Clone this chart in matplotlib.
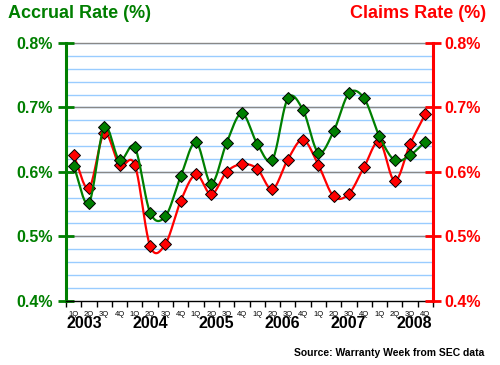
import numpy as np
import matplotlib
matplotlib.use('Agg')
import matplotlib.pyplot as plt
from matplotlib.transforms import blended_transform_factory

plt.rcParams['font.family'] = ['Liberation Sans', 'DejaVu Sans']

quarters = ['1Q', '2Q', '3Q', '4Q'] * 6
years = ['2003', '2004', '2005', '2006', '2007', '2008']
accrual = [0.609, 0.552, 0.669, 0.618, 0.638, 0.537, 0.531, 0.593, 0.646, 0.582, 0.645, 0.691,
           0.644, 0.619, 0.714, 0.696, 0.630, 0.663, 0.722, 0.714, 0.655, 0.618, 0.626, 0.647]
claims = [0.626, 0.575, 0.660, 0.611, 0.611, 0.485, 0.488, 0.555, 0.596, 0.565, 0.600, 0.612,
          0.605, 0.573, 0.619, 0.650, 0.611, 0.562, 0.566, 0.608, 0.647, 0.586, 0.643, 0.690]
y_ticks = [0.4, 0.5, 0.6, 0.7, 0.8]
y_labels = ['0.4%', '0.5%', '0.6%', '0.7%', '0.8%']

GREEN = '#007F00'
RED = '#FF0000'


def smooth(vals, n=20):
    v = np.asarray(vals, dtype=float)
    p = np.concatenate([[2 * v[0] - v[1]], v, [2 * v[-1] - v[-2]]])
    t = np.linspace(0, 1, n, endpoint=False)
    xs, ys = [], []
    for i in range(len(v) - 1):
        p0, p1, p2, p3 = p[i], p[i + 1], p[i + 2], p[i + 3]
        m1 = (p2 - p0) / 2
        m2 = (p3 - p1) / 2
        h00 = 2 * t**3 - 3 * t**2 + 1
        h10 = t**3 - 2 * t**2 + t
        h01 = -2 * t**3 + 3 * t**2
        h11 = t**3 - t**2
        ys.append(h00 * p1 + h10 * m1 + h01 * p2 + h11 * m2)
        xs.append(i + t)
    xs.append([len(v) - 1])
    ys.append([v[-1]])
    return np.concatenate(xs), np.concatenate(ys)


fig = plt.figure(figsize=(5, 3.65), dpi=100)
ax = fig.add_axes([0.132, 0.176, 0.734, 0.706])
x = np.arange(len(accrual))

ax.set_xlim(-0.5, len(accrual) - 0.5)
ax.set_ylim(0.4, 0.8)

# grid
for yv in np.arange(0.42, 0.8, 0.02):
    ax.axhline(yv, color='#99CCFF', lw=1, zorder=0)
for yv in y_ticks[1:]:
    ax.axhline(yv, color='#888888', lw=1, zorder=0.5, clip_on=False)

sx, sy = smooth(claims)
ax.plot(sx, sy, color=RED, lw=1.6, zorder=2)
ax.plot(x, claims, ls='none', marker='D', ms=6.5, mfc=RED, mec='black', mew=0.7, zorder=3)
sx, sy = smooth(accrual)
ax.plot(sx, sy, color=GREEN, lw=1.6, zorder=4)
ax.plot(x, accrual, ls='none', marker='D', ms=6.5, mfc=GREEN, mec='black', mew=0.7, zorder=5)

# axes styling
ax.spines['top'].set_visible(False)
ax.spines['right'].set_visible(False)
ax.spines['left'].set_color(GREEN)
ax.spines['left'].set_linewidth(2.2)
ax.spines['bottom'].set_color('black')
ax.spines['bottom'].set_linewidth(1)
ax.set_yticks(y_ticks)
ax.set_yticklabels(y_labels)
ax.tick_params(axis='y', direction='inout', length=12, width=2, color=GREEN,
               labelcolor=GREEN, labelsize=11.5, pad=3.5)
for lab in ax.get_yticklabels():
    lab.set_fontweight('bold')
ax.set_xticks(np.arange(-0.5, len(accrual), 1))
ax.tick_params(axis='x', direction='out', length=4, width=1, color='black', labelbottom=False)

ax2 = ax.twinx()
ax2.set_ylim(0.4, 0.8)
for s in ['top', 'left', 'bottom']:
    ax2.spines[s].set_visible(False)
ax2.spines['right'].set_color(RED)
ax2.spines['right'].set_linewidth(2.2)
ax2.set_yticks(y_ticks)
ax2.set_yticklabels(y_labels)
ax2.tick_params(axis='y', direction='inout', length=12, width=2, color=RED,
                labelcolor=RED, labelsize=11.5, pad=2.5)
for lab in ax2.get_yticklabels():
    lab.set_fontweight('bold')

# x labels
tr = blended_transform_factory(ax.transData, fig.transFigure)
for i, q in enumerate(quarters):
    ax.text(i, 1 - 314 / 365, q, transform=tr, ha='center', va='center', fontsize=5.5)
for k, yr in enumerate(years):
    ax.text(0.72 + 4.31 * k, 1 - 324 / 365, yr, transform=tr, ha='center', va='center',
            fontsize=11.5, fontweight='bold')

fig.text(8 / 500, 1 - 14 / 365, 'Accrual Rate (%)', color=GREEN, fontsize=13,
         fontweight='bold', ha='left', va='center')
fig.text(486 / 500, 1 - 14 / 365, 'Claims Rate (%)', color=RED, fontsize=13,
         fontweight='bold', ha='right', va='center')
fig.text(484 / 500, 1 - 353 / 365, 'Source: Warranty Week from SEC data', color='black',
         fontsize=7.5, fontweight='bold', ha='right', va='center')

fig.savefig('out.png', dpi=100)
